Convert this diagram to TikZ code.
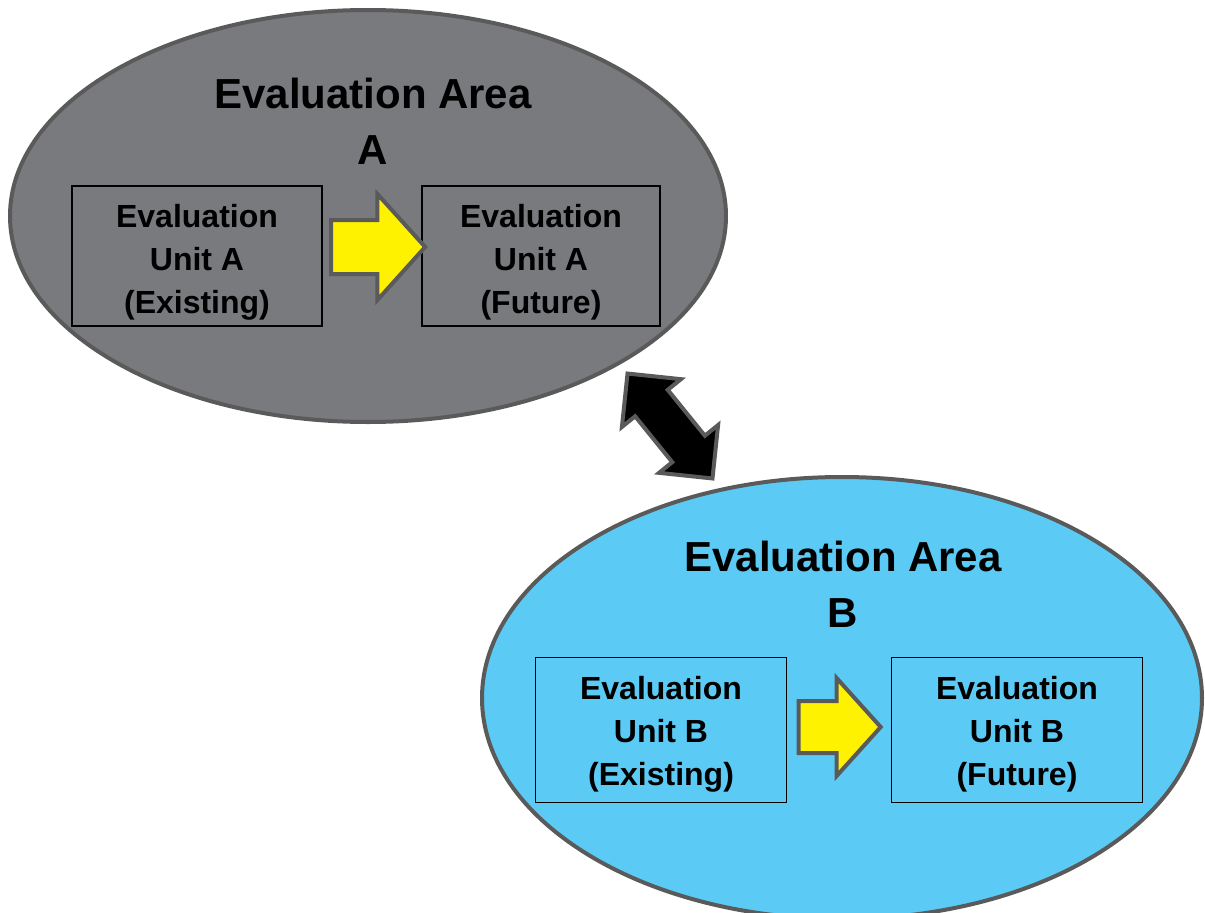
\documentclass[tikz,border=0pt]{standalone}
\usepackage{fontspec}
\setmainfont{Liberation Sans}
\usetikzlibrary{shapes.geometric,shapes.arrows}
\definecolor{areagray}{HTML}{797A7E}
\definecolor{areablue}{HTML}{5BCBF6}
\definecolor{rimgray}{HTML}{5A5A5A}
\tikzset{
  area/.style={ellipse, draw=rimgray, line width=4pt, inner sep=0pt},
  title/.style={align=center, font=\bfseries\fontsize{42}{56}\selectfont},
  unit/.style={draw=black, line width=1.5pt, inner sep=0pt, align=center,
    minimum height=140pt, font=\bfseries\fontsize{32}{43}\selectfont},
  move/.style={single arrow, fill=yellow, draw=rimgray, line width=4pt,
    inner xsep=0pt, inner ysep=25pt, single arrow head extend=26pt,
    single arrow tip angle=96},
  link/.style={double arrow, fill=black, draw=rimgray, line width=4pt,
    inner xsep=0pt, inner ysep=19pt, double arrow head extend=17pt,
    minimum height=135pt, rotate=-51}
}
\begin{document}
\begin{tikzpicture}[x=1pt, y=-1pt]
  \useasboundingbox (0,0) rectangle (1205,913);
  \node[area, fill=areagray, minimum width=716pt, minimum height=412pt] (areaA) at (368,216) {};
  \node[area, fill=areablue, minimum width=720pt, minimum height=442pt] (areaB) at (842,698) {};
  \node[title] (titleA) at (373,121) {Evaluation Area\\A};
  \node[title] (titleB) at (843,584) {Evaluation Area\\B};
  \node[unit, minimum width=250pt] (oldA) at (197,256) {\rule{0pt}{36pt}Evaluation\\Unit A\\(Existing)};
  \node[unit, minimum width=238pt] (newA) at (541,256) {\rule{0pt}{36pt}Evaluation\\Unit A\\(Future)};
  \node[unit, minimum width=251pt, minimum height=145pt] (oldB) at (661,730) {\rule{0pt}{32pt}Evaluation\\Unit B\\(Existing)};
  \node[unit, minimum width=251pt, minimum height=145pt] (newB) at (1017,730) {\rule{0pt}{32pt}Evaluation\\Unit B\\(Future)};
  \node[move, minimum height=94pt] (stepA) at (366,247) {};
  \node[move, minimum height=82pt, inner ysep=24pt, single arrow head extend=23pt] (stepB) at (828,727) {};
  \node[link] (swap) at (670,426) {};
\end{tikzpicture}
\end{document}
